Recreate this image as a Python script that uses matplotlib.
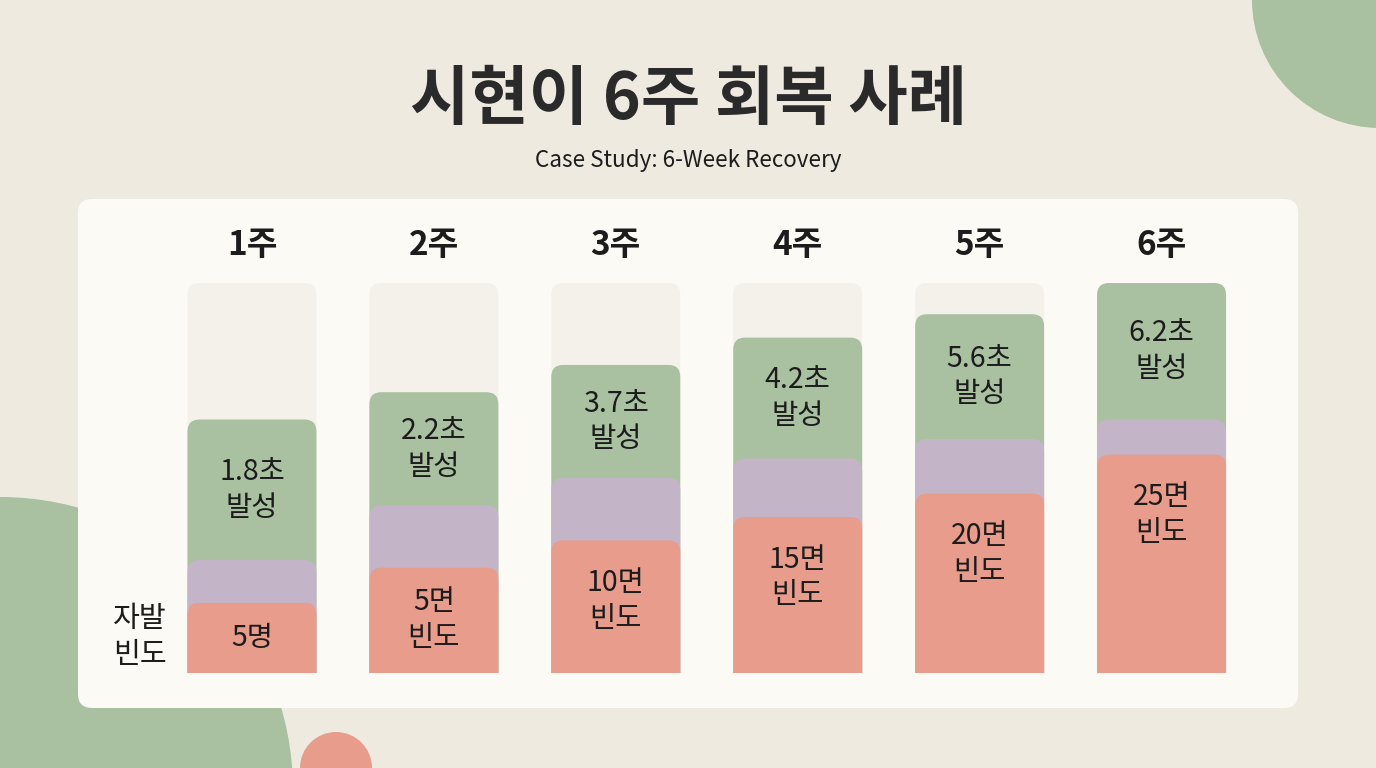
import matplotlib
matplotlib.use("Agg")
import matplotlib.pyplot as plt
from matplotlib.patches import FancyBboxPatch, Circle

plt.rcParams['font.family'] = ['Noto Sans CJK KR', 'DejaVu Sans']

# data (heights in % of the full track)
weeks = ['1주', '2주', '3주', '4주', '5주', '6주']
freq = [18, 27, 34, 40, 46, 56]        # red, 자발 빈도
mid = [11, 16, 16, 15, 14, 9]          # purple
onset = [36, 29, 29, 31, 32, 35]       # green, 발성
onset_labels = ['1.8초\n발성', '2.2초\n발성', '3.7초\n발성', '4.2초\n발성', '5.6초\n발성', '6.2초\n발성']
freq_labels = ['5명', '5면\n빈도', '10면\n빈도', '15면\n빈도', '20면\n빈도', '25면\n빈도']
track_max = 100

BG = '#EEEAE0'
PANEL = '#FBFAF5'
TRACK = '#F4F1EA'
GREEN = '#A9C1A0'
PURPLE = '#C3B4C8'
RED = '#E89C8C'
TXT = '#1C1C1C'

fig = plt.figure(figsize=(13.76, 7.68), dpi=100)
fig.patch.set_facecolor(BG)

# background decoration axes in pixel units
bg = fig.add_axes([0, 0, 1, 1])
bg.set_xlim(0, 1376)
bg.set_ylim(768, 0)
bg.axis('off')
bg.add_patch(Circle((1380, 0), 128, color=GREEN, lw=0))
bg.add_patch(Circle((0, 790), 293, color=GREEN, lw=0))
bg.add_patch(Circle((336, 768), 36, color=RED, lw=0))
bg.add_patch(FancyBboxPatch((78, 199), 1220, 509, boxstyle='round,pad=0,rounding_size=14',
                            fc=PANEL, ec='none'))

bg.text(688, 100, '시현이 6주 회복 사례', ha='center', va='center', fontsize=46.5,
        fontweight='bold', color='#2A2A2A')
bg.text(688, 160, 'Case Study: 6-Week Recovery', ha='center', va='center', fontsize=16.2,
        color=TXT)
bg.text(140, 637, '자발\n빈도', ha='center', va='center', fontsize=21, color=TXT,
        fontweight='medium', linespacing=1.3)

# bar axes
ax = fig.add_axes([161 / 1376, 95 / 768, 1091.5 / 1376, 390 / 768])
ax.set_xlim(-0.5, len(weeks) - 0.5)
ax.set_ylim(0, track_max)
ax.axis('off')

w = 0.709
r = 0.066
asp = 3.08 / 0.066


def rbar(x, top, color, z):
    p = FancyBboxPatch((x - w / 2, -10), w, top + 10,
                       boxstyle='round,pad=0,rounding_size=%f' % r,
                       mutation_aspect=asp, fc=color, ec='none', zorder=z)
    ax.add_patch(p)


for i in range(len(weeks)):
    t_red = freq[i]
    t_mid = freq[i] + mid[i]
    t_green = t_mid + onset[i]
    rbar(i, track_max, TRACK, 1)
    rbar(i, t_green, GREEN, 2)
    rbar(i, t_mid, PURPLE, 3)
    rbar(i, t_red, RED, 4)

    ax.text(i, (t_mid + t_green) / 2, onset_labels[i], ha='center', va='center',
            fontsize=20.5, fontweight='medium', color=TXT, linespacing=1.25, zorder=5)
    ly = max(t_red / 2, t_red - 15.5)
    ax.text(i, ly, freq_labels[i], ha='center', va='center',
            fontsize=20.5, fontweight='medium', color=TXT, linespacing=1.25, zorder=5)
    ax.text(i, 109.5, weeks[i], ha='center', va='center', fontsize=24,
            fontweight='bold', color=TXT, clip_on=False)

fig.savefig('out.png', dpi=100, facecolor=BG)
